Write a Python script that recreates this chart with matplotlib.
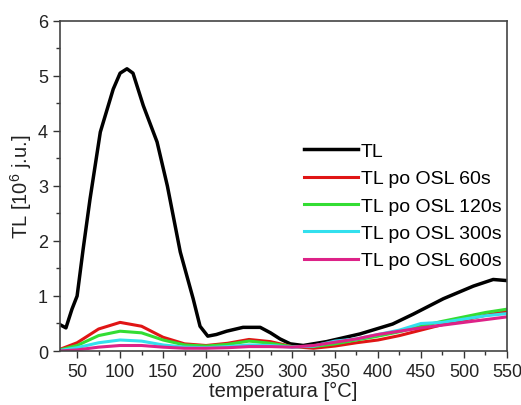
import matplotlib
matplotlib.use("Agg")
import matplotlib.pyplot as plt
from matplotlib.ticker import MultipleLocator

plt.rcParams["font.family"] = ["Liberation Sans", "DejaVu Sans"]
plt.rcParams["mathtext.default"] = "regular"

# TL curve (black)
tl_temp = [30, 37, 44, 50, 57, 65, 77, 92, 100, 108, 115, 127, 143, 155, 170,
           185, 193, 202, 212, 224, 243, 263, 275, 286, 298, 313, 340, 379,
           417, 441, 476, 511, 534, 550]
tl_vals = [0.48, 0.42, 0.76, 1.0, 1.85, 2.76, 3.98, 4.76, 5.05, 5.13, 5.05,
           4.46, 3.8, 3.0, 1.8, 0.95, 0.45, 0.27, 0.30, 0.36, 0.43, 0.43,
           0.33, 0.22, 0.13, 0.10, 0.17, 0.31, 0.49, 0.67, 0.95, 1.18, 1.30,
           1.28]

# TL after OSL bleaching, common temperature grid
temp = [30, 50, 75, 100, 125, 150, 175, 200, 225, 250, 275, 300, 325, 350,
        375, 400, 425, 450, 475, 500, 525, 550]
osl_60 = [0.03, 0.15, 0.40, 0.52, 0.45, 0.25, 0.13, 0.10, 0.14, 0.21, 0.17,
          0.08, 0.05, 0.09, 0.15, 0.20, 0.28, 0.38, 0.48, 0.56, 0.65, 0.72]
osl_120 = [0.02, 0.10, 0.28, 0.36, 0.33, 0.20, 0.11, 0.09, 0.12, 0.18, 0.14,
           0.08, 0.08, 0.13, 0.20, 0.27, 0.35, 0.45, 0.54, 0.62, 0.70, 0.76]
osl_300 = [0.01, 0.06, 0.15, 0.20, 0.18, 0.11, 0.07, 0.06, 0.08, 0.11, 0.10,
           0.07, 0.09, 0.18, 0.22, 0.30, 0.38, 0.50, 0.52, 0.58, 0.64, 0.68]
osl_600 = [0.00, 0.02, 0.07, 0.10, 0.10, 0.07, 0.05, 0.05, 0.06, 0.08, 0.08,
           0.07, 0.10, 0.16, 0.22, 0.30, 0.36, 0.42, 0.47, 0.52, 0.57, 0.62]

labels = ["TL", "TL po OSL 60s", "TL po OSL 120s", "TL po OSL 300s",
          "TL po OSL 600s"]
colors = ["#000000", "#e01515", "#33dd33", "#33e0ee", "#dd2288"]

fig = plt.figure(figsize=(5.21, 4.06), dpi=100)
ax = fig.add_axes([0.115, 0.133, 0.858, 0.813])

ax.plot(tl_temp, tl_vals, color=colors[0], lw=2.5, label=labels[0])
for vals, c, lab in zip([osl_60, osl_120, osl_300, osl_600], colors[1:], labels[1:]):
    ax.plot(temp, vals, color=c, lw=2.2, label=lab)

ax.set_xlim(30, 550)
ax.set_ylim(0, 6)
ax.xaxis.set_major_locator(MultipleLocator(50))
ax.xaxis.set_minor_locator(MultipleLocator(25))
ax.yaxis.set_major_locator(MultipleLocator(1))
ax.yaxis.set_minor_locator(MultipleLocator(0.5))
ax.tick_params(which="both", direction="out", labelsize=13, colors="#333333",
               labelcolor="#222222", width=1)
ax.tick_params(which="major", length=5)
ax.tick_params(which="minor", length=3)
for s in ax.spines.values():
    s.set_color("#444444")
    s.set_linewidth(1.2)

ax.set_xlabel("temperatura [°C]", fontsize=14.5, color="#222222", labelpad=1)
ax.set_ylabel("TL [10$^{6}$ j.u.]", fontsize=14.5, color="#222222", labelpad=3)

ax.legend(loc="upper left", bbox_to_anchor=(0.545, 0.632), frameon=False,
          fontsize=14, handlelength=2.8, handletextpad=0.15,
          labelspacing=0.5, borderpad=0, borderaxespad=0)

fig.savefig("out.png", dpi=100)
